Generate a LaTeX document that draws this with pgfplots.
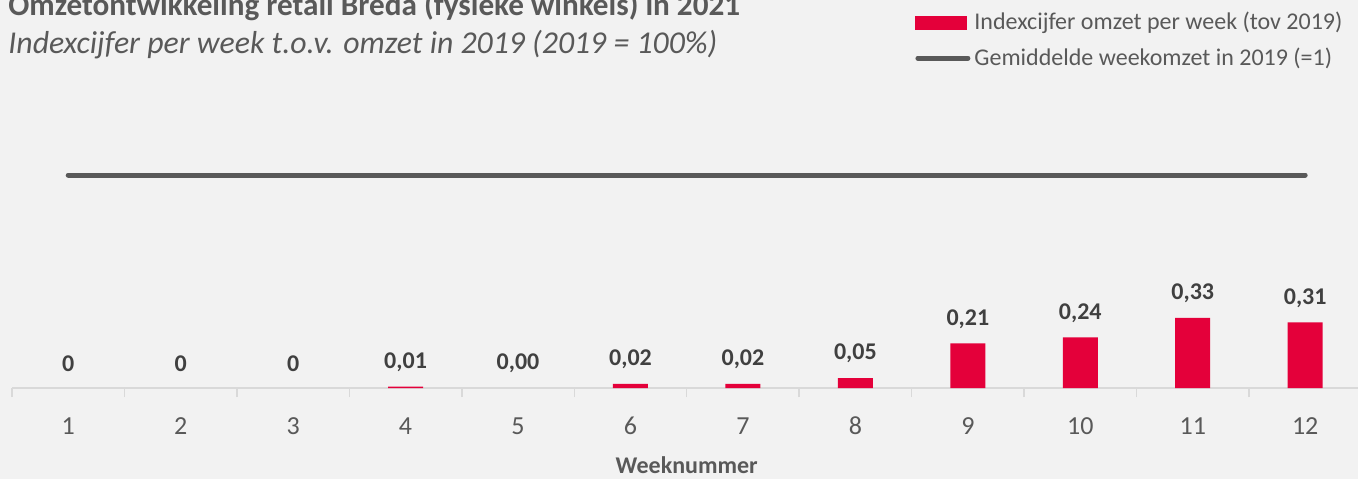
\documentclass[border=0pt]{standalone}
\usepackage{fontspec}
\setmainfont{Carlito}
\usepackage{pgfplots}
\pgfplotsset{compat=1.18}
\usepackage{pgfplotstable}
\definecolor{bg}{HTML}{F2F2F2}
\definecolor{bred}{HTML}{E4003A}
\definecolor{lgray}{HTML}{595959}
\definecolor{dgray}{HTML}{404040}
\definecolor{axgray}{HTML}{D9D9D9}

% weeks with a visible bar
\pgfplotstableread{
week value label
4 0.007 0,01
6 0.02 0,02
7 0.02 0,02
8 0.047 0,05
9 0.21 0,21
10 0.238 0,24
11 0.329 0,33
12 0.308 0,31
}\datatable

% weeks with value zero (label only)
\pgfplotstableread{
week value label
1 0 0
2 0 0
3 0 0
5 0 0,00
}\zerotable

\pgfplotstableread{
week value
1 1
12 1
}\linetable

\begin{document}
\begin{tikzpicture}
\fill[bg] (0,0) rectangle (679pt,239.5pt);
\path[use as bounding box] (0,0) rectangle (679pt,239.5pt);
\begin{axis}[
  at={(6pt,45.5pt)}, anchor=south west,
  scale only axis, width=674.7pt, height=127.8pt,
  xmin=0.5, xmax=12.5, ymin=0, ymax=1.2,
  axis x line*=bottom, axis y line=none,
  x axis line style={axgray, line width=0.75pt, -},
  xtick={1,...,12}, major tick length=0pt,
  minor xtick={0.5,1.5,...,12.5}, minor tick length=4.5pt, tick align=outside,
  minor tick style={axgray, line width=0.75pt},
  major tick style={draw=none},
  xticklabel style={font=\fontsize{13}{15}\selectfont, text=lgray, anchor=center, yshift=-19pt},
  /pgf/number format/assume math mode=true,
  xlabel={Weeknummer},
  xlabel style={at={(axis description cs:0.5,0)}, anchor=center, yshift=-38.5pt, font=\bfseries\fontsize{12}{14}\selectfont, text=lgray},
  clip=false,
  legend style={at={(0.6692,1.487)}, anchor=north west, draw=none, fill=none,
    font=\fontsize{12}{14}\selectfont, text=lgray, inner sep=0pt, row sep=3.5pt},
  legend cell align=left,
]
\addplot[ybar, bar shift=0pt, bar width=17.5pt, fill=bred, draw=none,
  nodes near coords, point meta=explicit symbolic,
  nodes near coords style={font=\bfseries\fontsize{12}{14}\selectfont, text=dgray, anchor=center, yshift=12.2pt},
  legend image code/.code={\fill[bred] (0pt,-3.5pt) rectangle (26pt,3.5pt);}]
  table[x=week, y=value, meta=label] {\datatable};
\addlegendentry{Indexcijfer omzet per week (tov 2019)}
\addplot[lgray, line width=2.5pt, line cap=round,
  legend image code/.code={\draw[lgray, line width=2.5pt, line cap=round] (1.25pt,0pt) -- (26.25pt,0pt);}]
  table[x=week, y=value] {\linetable};
\addlegendentry{Gemiddelde weekomzet in 2019 (=1)}
\addplot[ybar, bar shift=0pt, bar width=17.5pt, fill=none, draw=none, forget plot,
  nodes near coords, point meta=explicit symbolic,
  nodes near coords style={font=\bfseries\fontsize{12}{14}\selectfont, text=dgray, anchor=center, yshift=12.2pt}]
  table[x=week, y=value, meta=label] {\zerotable};
\end{axis}
\node[anchor=base west, font=\bfseries\fontsize{15.6}{18}\selectfont, text=lgray, inner sep=0pt] at (4pt,232pt) {Omzetontwikkeling retail Breda (fysieke winkels) in 2021};
\node[anchor=base west, font=\itshape\fontsize{15.9}{18}\selectfont, text=lgray, inner sep=0pt] at (4pt,213pt) {Indexcijfer per week t.o.v. omzet in 2019 (2019 = 100\%)};
\end{tikzpicture}
\end{document}
